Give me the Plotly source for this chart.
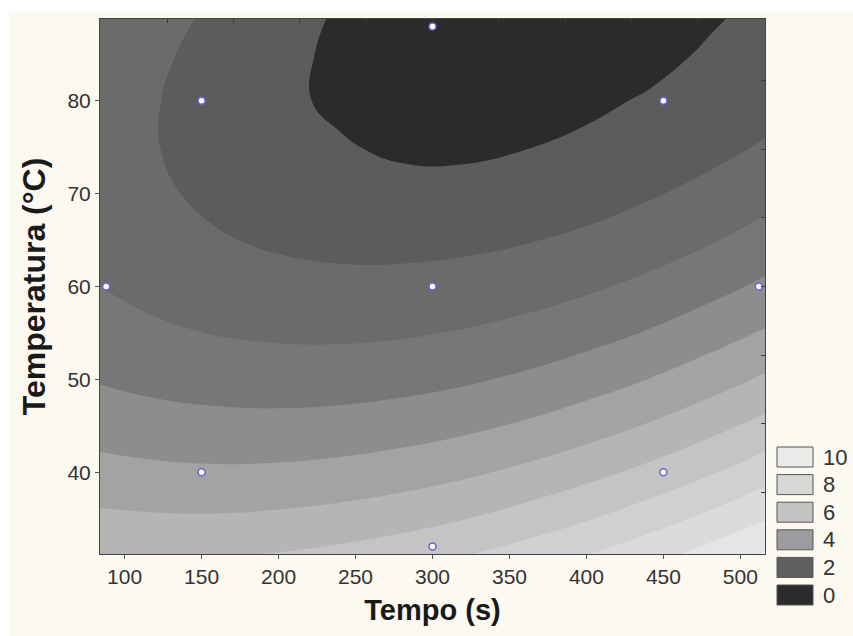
import plotly.graph_objects as go

# Response surface on a Tempo (s) x Temperatura (°C) grid
tempo = [84, 120, 160, 200, 240, 280, 320, 360, 400, 440, 480, 516]
temperatura = [31.2, 35, 40, 45, 50, 55, 60, 65, 70, 75, 80, 85, 88.8]
resposta = [
    [5.94, 5.89, 5.92, 6.04, 6.25, 6.54, 6.92, 7.40, 7.96, 8.60, 9.34, 10.08],
    [5.20, 5.12, 5.11, 5.20, 5.37, 5.62, 5.97, 6.41, 6.93, 7.54, 8.24, 8.95],
    [4.33, 4.21, 4.15, 4.19, 4.31, 4.52, 4.82, 5.21, 5.69, 6.25, 6.90, 7.57],
    [3.57, 3.41, 3.31, 3.29, 3.37, 3.53, 3.78, 4.12, 4.55, 5.07, 5.68, 6.30],
    [2.93, 2.72, 2.58, 2.52, 2.54, 2.66, 2.86, 3.16, 3.54, 4.01, 4.56, 5.14],
    [2.41, 2.16, 1.96, 1.85, 1.83, 1.90, 2.06, 2.30, 2.64, 3.06, 3.57, 4.10],
    [2.00, 1.70, 1.46, 1.30, 1.24, 1.26, 1.37, 1.56, 1.85, 2.22, 2.69, 3.18],
    [1.70, 1.36, 1.07, 0.87, 0.75, 0.73, 0.79, 0.94, 1.18, 1.50, 1.92, 2.37],
    [1.52, 1.14, 0.80, 0.55, 0.33, 0.23, 0.24, 0.36, 0.57, 0.90, 1.27, 1.67],
    [1.46, 1.03, 0.65, 0.30, 0.06, -0.12, -0.14, -0.02, 0.12, 0.41, 0.73, 1.09],
    [1.51, 1.04, 0.61, 0.14, -0.12, -0.28, -0.33, -0.28, -0.13, 0.06, 0.31, 0.63],
    [1.67, 1.16, 0.68, 0.17, -0.12, -0.30, -0.40, -0.41, -0.33, -0.20, 0.08, 0.36],
    [1.87, 1.33, 0.81, 0.34, -0.10, -0.30, -0.42, -0.45, -0.40, -0.28, -0.07, 0.17],
]

# Experimental design points (central composite design)
ponto_tempo = [88, 150, 150, 300, 300, 300, 450, 450, 512]
ponto_temperatura = [60, 40, 80, 32, 60, 88, 40, 80, 60]

# Contour levels and the fill of each band (below 0, 0-1, ..., 9-10, above 10)
nivel_inicio, nivel_fim, nivel_passo = 0, 10, 1
cores_faixas = [
    "#2b2b2b", "#5c5c5c", "#6b6b6b", "#777777", "#8d8d8d", "#a3a3a3",
    "#b5b5b5", "#c4c4c4", "#d0d0d0", "#dbdbdb", "#e5e5e5", "#f0f0f0",
]

# Legend entries
legenda_rotulos = ["10", "8", "6", "4", "2", "0"]
legenda_cores = ["#e9ebe9", "#d6d8d6", "#c2c4c2", "#9c9ca0", "#5e5f5e", "#2b2b2b"]

# Secondary tick marks on the top and right frame
ticks_topo = [127.8, 170.9, 213.9, 257.0, 300.0, 343.0, 386.1, 429.1, 472.2]
ticks_direita = [37.8, 45.2, 52.6, 60.0, 67.4, 74.8, 82.2]

W, H = 853, 636
L, R, T, B = 100, 765, 19, 554
FUNDO = "#fcf9f1"
FAIXA_X = [84, 516]
FAIXA_Y = [31.2, 88.8]


def px(x):
    return (x - L) / (R - L)


def py(y):
    return (B - y) / (B - T)


n = len(cores_faixas) - 1
escala = [[i / n, c] for i, c in enumerate(cores_faixas)]

fig = go.Figure()
fig.add_trace(go.Contour(
    x=tempo, y=temperatura, z=resposta,
    contours=dict(start=nivel_inicio, end=nivel_fim, size=nivel_passo,
                  coloring="fill", showlines=False),
    colorscale=escala, showscale=False,
    line=dict(width=0, smoothing=1.3),
    hoverinfo="skip",
))
fig.add_trace(go.Scatter(
    x=ponto_tempo, y=ponto_temperatura, mode="markers",
    marker=dict(size=7, color="white", line=dict(color="#6464d2", width=1.5)),
    showlegend=False, cliponaxis=False, hoverinfo="skip",
))
# empty trace that keeps the secondary (top/right) tick axes on the page
fig.add_trace(go.Scatter(x=[], y=[], xaxis="x2", yaxis="y2",
                         showlegend=False, hoverinfo="skip"))

shapes = [
    # page background with the thin white strip at the top and left
    dict(type="rect", xref="paper", yref="paper", layer="below",
         x0=px(9), x1=px(W + 2), y0=py(H + 2), y1=py(12),
         fillcolor=FUNDO, line=dict(width=0)),
]
annotations = []
topo, passo, alto = 447, 27.6, 20
for i, (rot, cor) in enumerate(zip(legenda_rotulos, legenda_cores)):
    y0 = topo + i * passo
    shapes.append(dict(type="rect", xref="paper", yref="paper",
                       x0=px(777), x1=px(813), y0=py(y0 + alto), y1=py(y0),
                       fillcolor=cor, line=dict(color="#555555", width=1)))
    annotations.append(dict(xref="paper", yref="paper", x=px(821), y=py(y0 + alto / 2),
                            text=rot, showarrow=False, xanchor="left", yanchor="middle",
                            font=dict(size=22, color="#333333")))

fonte = "Liberation Sans, Arial, sans-serif"
eixo = dict(showgrid=False, zeroline=False, showline=True, linecolor="#444444",
            linewidth=1, mirror=True, ticks="outside", ticklen=4, tickcolor="#555555",
            tickfont=dict(family=fonte, size=21, color="#333333"))
eixo_sec = dict(showgrid=False, zeroline=False, showline=False, ticks="inside",
                ticklen=4, tickcolor="#3a3a3a", showticklabels=False, fixedrange=True)

fig.update_layout(
    width=W, height=H,
    margin=dict(l=L, r=W - R, t=T, b=H - B, pad=0),
    paper_bgcolor="white", plot_bgcolor=FUNDO,
    showlegend=False,
    shapes=shapes, annotations=annotations,
    font=dict(family=fonte),
    xaxis=dict(eixo, range=FAIXA_X, tickvals=[100, 150, 200, 250, 300, 350, 400, 450, 500],
               title=dict(text="<b>Tempo (s)</b>", standoff=12,
                          font=dict(size=29, color="#1a1a1a"))),
    yaxis=dict(eixo, range=FAIXA_Y, tickvals=[40, 50, 60, 70, 80],
               title=dict(text="<b>Temperatura (°C)</b>", standoff=12,
                          font=dict(size=32, color="#1a1a1a"))),
    xaxis2=dict(eixo_sec, overlaying="x", side="top", anchor="y2", range=FAIXA_X,
                tickvals=ticks_topo),
    yaxis2=dict(eixo_sec, overlaying="y", side="right", anchor="x2", range=FAIXA_Y,
                tickvals=ticks_direita),
)

fig.write_html("out.html")
